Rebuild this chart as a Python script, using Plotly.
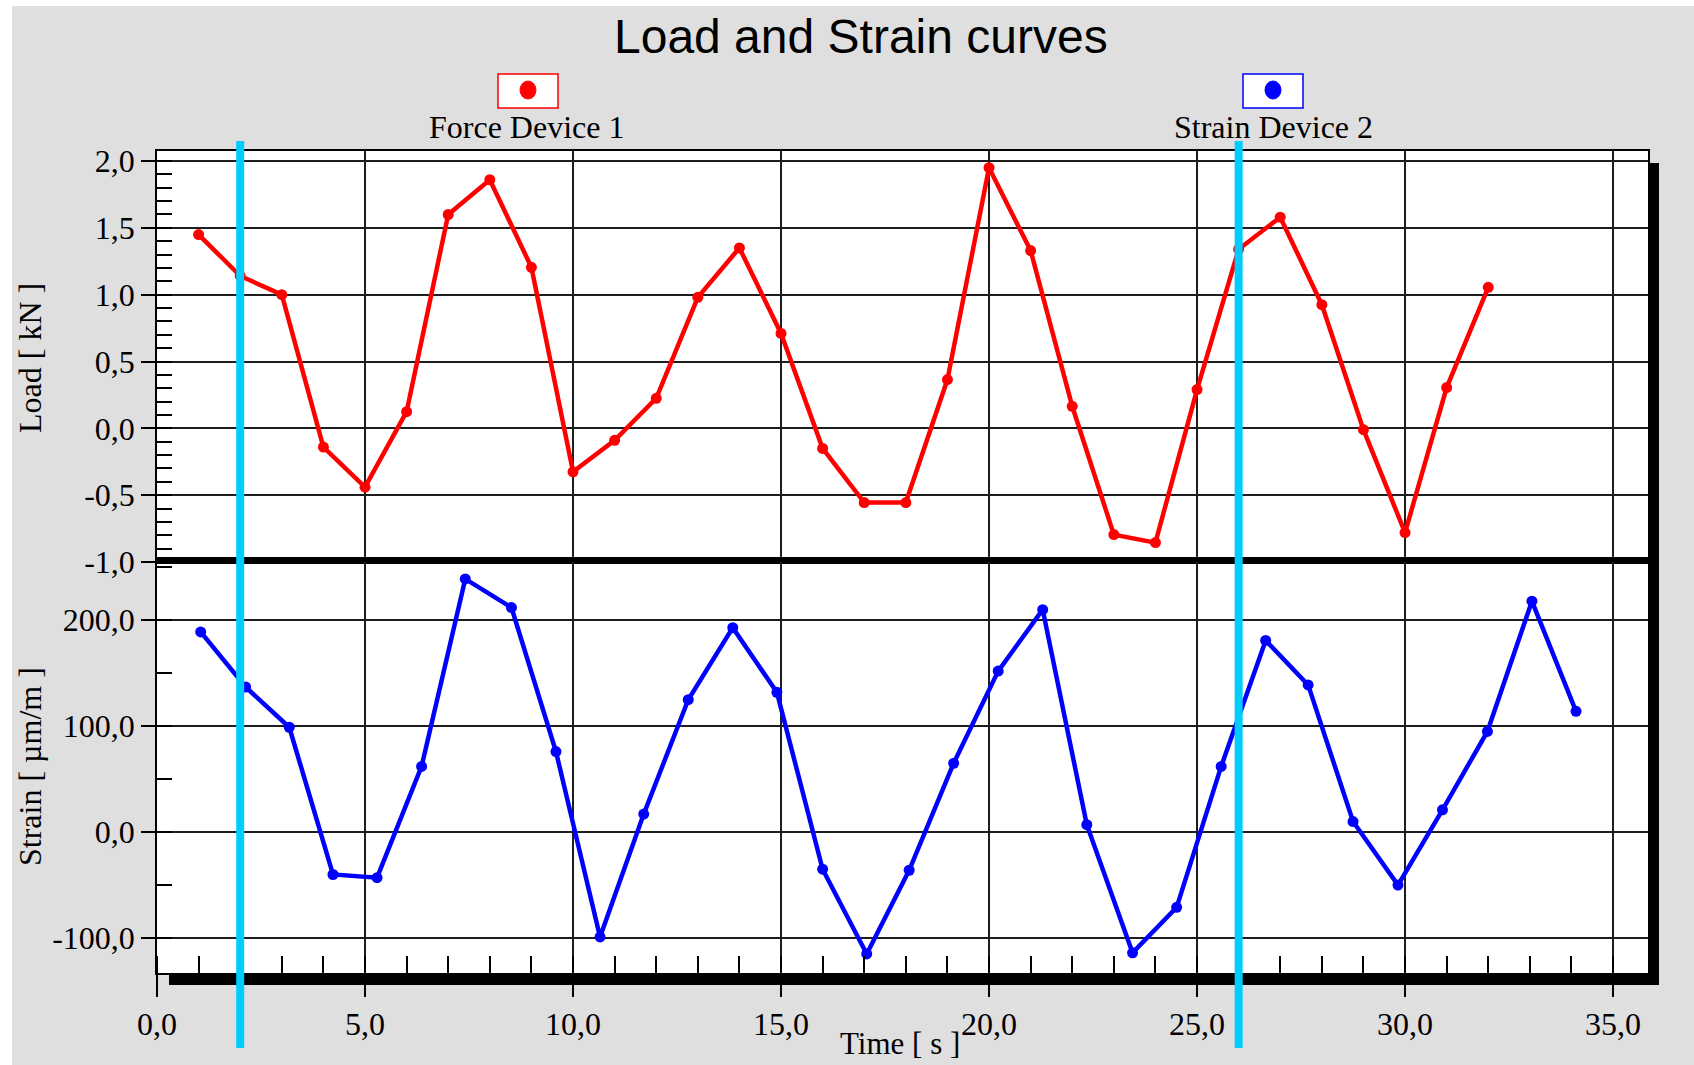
import plotly.graph_objects as go

# ---------------- data ----------------
title_text = "Load and Strain curves"
load_name = "Force Device 1"
strain_name = "Strain Device 2"
x_title = "Time [ s ]"
load_title = "Load [ kN ]"
strain_title = "Strain [ µm/m ]"

load_time = [1, 2, 3, 4, 5, 6, 7, 8, 9, 10, 11, 12, 13, 14, 15, 16,
             17, 18, 19, 20, 21, 22, 23, 24, 25, 26, 27, 28, 29, 30, 31, 32]
load_kn = [1.45, 1.14, 1.00, -0.14, -0.44, 0.125, 1.60, 1.86, 1.205, -0.325, -0.09,
           0.225, 0.98, 1.35, 0.71, -0.15, -0.555, -0.555, 0.365, 1.95, 1.33, 0.165,
           -0.795, -0.855, 0.29, 1.34, 1.58, 0.925, -0.01, -0.78, 0.305, 1.055]

strain_time = [1.05, 2.13, 3.18, 4.23, 5.29, 6.36, 7.41, 8.52, 9.59, 10.65, 11.70,
               12.77, 13.84, 14.90, 16.00, 17.06, 18.08, 19.15, 20.22, 21.29, 22.35,
               23.45, 24.51, 25.58, 26.65, 27.67, 28.75, 29.83, 30.90, 31.98, 33.05, 34.11]
strain_um = [189, 137, 99, -40, -43, 62, 239, 212, 76, -99, 17, 125, 193, 132, -35,
             -115, -36, 65, 152, 210, 7, -114, -71, 62, 181, 139, 10, -50, 21, 95, 218, 114]

cursor_times = [2.0, 26.0]

x_tickvals = [0, 5, 10, 15, 20, 25, 30, 35]
x_ticktext = ["0,0", "5,0", "10,0", "15,0", "20,0", "25,0", "30,0", "35,0"]
load_tickvals = [-1.0, -0.5, 0.0, 0.5, 1.0, 1.5, 2.0]
load_ticktext = ["-1,0", "-0,5", "0,0", "0,5", "1,0", "1,5", "2,0"]
strain_tickvals = [-100, 0, 100, 200]
strain_ticktext = ["-100,0", "0,0", "100,0", "200,0"]

# ---------------- layout geometry (pixels) ----------------
W, H = 1694, 1065
PL, PR, PT, PB = 157, 1648, 151, 973


def px(xp):
    return (xp - PL) / (PR - PL)


def py(yp):
    return (PB - yp) / (PB - PT)


SERIF = "Liberation Serif, Times New Roman, serif"
SANS = "Liberation Sans, Arial, sans-serif"
RED = "#ff0000"
BLUE = "#0000ff"
CYAN = "#00ccff"
GRID = "#1e1e1e"
BG = "#dfdfdf"

fig = go.Figure()
fig.add_trace(go.Scatter(
    x=load_time, y=load_kn, xaxis="x", yaxis="y", mode="lines+markers", name=load_name,
    line=dict(color=RED, width=4.5), marker=dict(color=RED, size=11, symbol="circle"),
    showlegend=False, hoverinfo="x+y"))
fig.add_trace(go.Scatter(
    x=strain_time, y=strain_um, xaxis="x2", yaxis="y2", mode="lines+markers", name=strain_name,
    line=dict(color=BLUE, width=4.5), marker=dict(color=BLUE, size=11, symbol="circle"),
    showlegend=False, hoverinfo="x+y"))

tickfont = dict(family=SERIF, size=32, color="black")
xrange_ = [0, 35.84]

fig.update_layout(
    width=W, height=H, autosize=False,
    margin=dict(l=PL, r=W - PR, t=PT, b=H - PB, pad=0),
    paper_bgcolor=BG, plot_bgcolor="white",
    showlegend=False,
    xaxis=dict(domain=[0, 1], anchor="y", range=xrange_, tickvals=x_tickvals,
               showticklabels=False, ticks="", showgrid=True, gridcolor=GRID, gridwidth=1.5,
               showline=True, linecolor="black", linewidth=1.5, mirror=True, zeroline=False),
    xaxis2=dict(domain=[0, 1], anchor="y2", matches="x", range=xrange_,
                tickmode="array", tickvals=x_tickvals, ticktext=x_ticktext,
                ticks="outside", ticklen=22, tickwidth=1.5, tickcolor="black",
                tickfont=tickfont, showgrid=True, gridcolor=GRID, gridwidth=1.5,
                showline=True, linecolor="black", linewidth=1.5, mirror=False, zeroline=False,
                minor=dict(tickmode="linear", tick0=0, dtick=1, ticks="inside", ticklen=17,
                           tickwidth=1.5, tickcolor="black", showgrid=False)),
    yaxis=dict(domain=[0.5, 1], anchor="x", range=[-1.0, 2.075],
               tickmode="array", tickvals=load_tickvals, ticktext=load_ticktext,
               ticks="outside", ticklen=14, tickwidth=1.5, tickcolor="black",
               tickfont=tickfont, showgrid=True, gridcolor=GRID, gridwidth=1.5,
               showline=True, linecolor="black", linewidth=1.5, mirror=True, zeroline=False,
               minor=dict(tickmode="linear", tick0=-1.0, dtick=0.1, ticks="inside", ticklen=15,
                          tickwidth=1.5, tickcolor="black", showgrid=False)),
    yaxis2=dict(domain=[0, 0.5], anchor="x2", range=[-133, 255],
                tickmode="array", tickvals=strain_tickvals, ticktext=strain_ticktext,
                ticks="outside", ticklen=14, tickwidth=1.5, tickcolor="black",
                tickfont=tickfont, showgrid=True, gridcolor=GRID, gridwidth=1.5,
                showline=True, linecolor="black", linewidth=1.5, mirror=True, zeroline=False,
                minor=dict(tickmode="linear", tick0=-100, dtick=50, ticks="inside", ticklen=15,
                           tickwidth=1.5, tickcolor="black", showgrid=False)),
)

shapes = []
# white frame strips (top/left)
shapes.append(dict(type="rect", xref="paper", yref="paper", x0=px(0), x1=px(W), y0=py(0), y1=py(6),
                   fillcolor="white", line=dict(width=0), layer="below"))
shapes.append(dict(type="rect", xref="paper", yref="paper", x0=px(0), x1=px(12), y0=py(0), y1=py(H),
                   fillcolor="white", line=dict(width=0), layer="below"))
# drop shadow of the plot frame
shapes.append(dict(type="rect", xref="paper", yref="paper", x0=px(169), x1=px(1659),
                   y0=py(985), y1=py(973), fillcolor="black", line=dict(width=0)))
shapes.append(dict(type="rect", xref="paper", yref="paper", x0=px(1648), x1=px(1659),
                   y0=py(985), y1=py(163), fillcolor="black", line=dict(width=0)))
# thick separator between the two panels
shapes.append(dict(type="line", xref="paper", yref="y", x0=0, x1=1, y0=-1.0, y1=-1.0,
                   line=dict(color="black", width=10)))
# legend boxes
for cx, col in [(528, RED), (1273, BLUE)]:
    shapes.append(dict(type="rect", xref="paper", yref="paper", x0=px(cx - 30), x1=px(cx + 30),
                       y0=py(108), y1=py(74), fillcolor="white", line=dict(color=col, width=1.5)))
    shapes.append(dict(type="circle", xref="paper", yref="paper", x0=px(cx - 8), x1=px(cx + 8),
                       y0=py(99), y1=py(81), fillcolor=col, line=dict(color=col, width=1)))
# cursor lines
for t in cursor_times:
    shapes.append(dict(type="line", xref="x", yref="paper", x0=t, x1=t, y0=py(1048), y1=py(141),
                       line=dict(color=CYAN, width=8), layer="above"))
fig.update_layout(shapes=shapes)

annotations = [
    dict(text=title_text, xref="paper", yref="paper", x=px(861), y=py(36), showarrow=False,
         xanchor="center", yanchor="middle", font=dict(family=SANS, size=48, color="black")),
    dict(text=load_name, xref="paper", yref="paper", x=px(526), y=py(127), showarrow=False,
         xanchor="center", yanchor="middle", font=dict(family=SERIF, size=32, color="black")),
    dict(text=strain_name, xref="paper", yref="paper", x=px(1273), y=py(127), showarrow=False,
         xanchor="center", yanchor="middle", font=dict(family=SERIF, size=32, color="black")),
    dict(text=load_title, xref="paper", yref="paper", x=px(30), y=py(358), showarrow=False,
         textangle=-90, xanchor="center", yanchor="middle",
         font=dict(family=SERIF, size=32, color="black")),
    dict(text=strain_title, xref="paper", yref="paper", x=px(30), y=py(767), showarrow=False,
         textangle=-90, xanchor="center", yanchor="middle",
         font=dict(family=SERIF, size=32, color="black")),
    dict(text=x_title, xref="paper", yref="paper", x=px(900), y=py(1043), showarrow=False,
         xanchor="center", yanchor="middle", font=dict(family=SERIF, size=31, color="black")),
]
fig.update_layout(annotations=annotations)

fig.write_html("out.html", include_plotlyjs=True, full_html=True,
               config={"displayModeBar": False},
               post_script="document.body.style.margin='0';document.body.style.overflow='hidden';")
